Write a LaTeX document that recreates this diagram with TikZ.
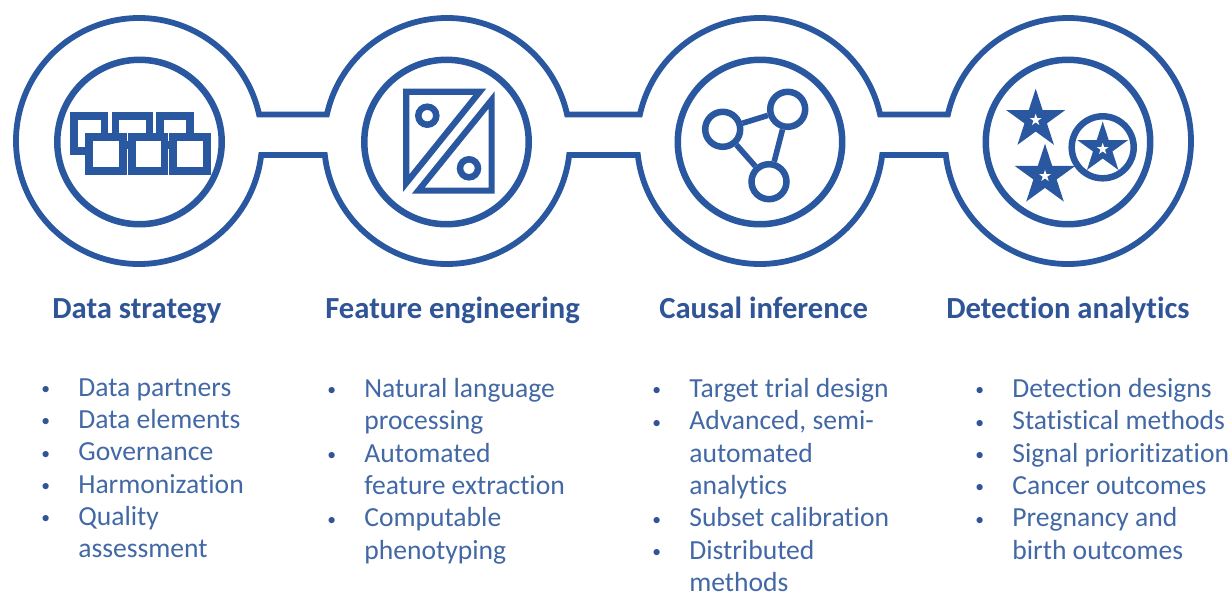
\documentclass[tikz,border=0pt]{standalone}
\usepackage{fontspec}
\setmainfont[Ligatures=NoCommon]{Carlito}
\usetikzlibrary{shapes.geometric, calc}
\definecolor{ringblue}{RGB}{42,88,160}
\definecolor{headblue}{RGB}{47,85,151}
\definecolor{textblue}{RGB}{66,104,165}
\newcommand{\itm}{\makebox[0.74cm][l]{\textcolor{headblue}{\fontsize{10}{10}\selectfont\raisebox{1pt}{\textbullet}}}}
\newcommand{\cnt}{\hspace*{0.74cm}}
\tikzset{
    ring/.style={draw=ringblue, line width=3.3pt, line join=miter},
    inner ring/.style={circle, draw=ringblue, line width=3.7pt, minimum size=3.29cm, inner sep=0pt},
    box/.style={draw=ringblue, line width=4.4pt, fill=white},
    tri/.style={draw=ringblue, line width=3.5pt, line join=miter},
    dot/.style={circle, draw=ringblue, line width=3.7pt, minimum size=0.36cm, inner sep=0pt},
    graph node/.style={circle, draw=ringblue, line width=3.7pt, fill=white, minimum size=0.7cm, inner sep=0pt},
    big star/.style={star, star points=5, star point ratio=2.618, fill=ringblue, inner sep=0pt},
    small star/.style={star, star points=5, star point ratio=2.618, fill=white, inner sep=0pt, minimum size=0.25cm},
    heading/.style={anchor=base west, inner sep=0pt, text=headblue, font=\fontsize{17.45}{20}\selectfont\bfseries},
    list/.style={anchor=north west, inner sep=0pt, align=left, text=textblue, font=\fontsize{15.7}{18.42}\selectfont},
}
\begin{document}
\begin{tikzpicture}[x=0.02cm, y=-0.02cm]
    \useasboundingbox (0,0) rectangle (1231,592);
    % outline of the chain
    \draw[ring] (139,141) ++(-12.4:123) arc[start angle=-12.4, end angle=-353.5, radius=123]
        -- ($(447,141)+(173.5:123)$) arc[start angle=173.5, end angle=6.5, radius=123]
        -- ($(760,141)+(173.5:123)$) arc[start angle=173.5, end angle=6.5, radius=123]
        -- ($(1068,141)+(173.5:123)$) arc[start angle=173.5, end angle=-167.6, radius=123]
        -- ($(760,141)+(-12.4:123)$) arc[start angle=-12.4, end angle=-167.6, radius=123]
        -- ($(447,141)+(-12.4:123)$) arc[start angle=-12.4, end angle=-167.6, radius=123]
        -- cycle;
    \node[inner ring] (ringdata) at (139.5,142) {};
    \node[inner ring] (ringfeature) at (446.5,142) {};
    \node[inner ring] (ringcausal) at (760,142) {};
    \node[inner ring] (ringdetect) at (1068,142) {};
    % data strategy
    \draw[box] (74,116) rectangle (104.5,151);
    \draw[box] (115.5,116) rectangle (149.5,145);
    \draw[box] (160,116) rectangle (190,145);
    \draw[box] (89,136.7) rectangle (123,171);
    \draw[box] (132,136.7) rectangle (164.5,171);
    \draw[box] (173.2,136.7) rectangle (206.8,171);
    % feature engineering
    \draw[tri] (406.3,91.7) -- (479.8,91.7) -- (406.3,183) -- cycle;
    \draw[tri] (491.6,100) -- (491.6,190.6) -- (418.3,190.6) -- cycle;
    \node[dot] (dotupper) at (427.3,115.7) {};
    \node[dot] (dotlower) at (469,168.3) {};
    % causal inference
    \node[graph node] (graphleft) at (722.7,129.3) {};
    \node[graph node] (graphright) at (787.7,109.3) {};
    \node[graph node] (graphlow) at (769,181.7) {};
    \draw[ringblue, line width=3.2pt] (graphleft) -- (graphright);
    \draw[ringblue, line width=3.2pt] (graphright) -- (graphlow);
    \draw[ringblue, line width=3.2pt] (graphlow) -- (graphleft);
    % detection analytics
    \node[big star, minimum size=1.24cm] (starone) at (1035.7,119.7) {};
    \node[small star] (whiteone) at (1035.7,120) {};
    \node[big star, minimum size=1.28cm] (startwo) at (1045,175.7) {};
    \node[small star] (whitetwo) at (1045,176) {};
    \node[circle, draw=ringblue, line width=3.7pt, minimum size=1.24cm, inner sep=0pt] (starring) at (1102.7,147.3) {};
    \node[big star, minimum size=1.07cm] (starthree) at (1102.7,148.3) {};
    \node[small star] (whitethree) at (1102.7,149) {};
    % headings
    \node[heading] (headdata) at (52,318) {Data strategy};
    \node[heading] (headfeature) at (325,318) {Feature engineering};
    \node[heading] (headcausal) at (659,318) {Causal inference};
    \node[heading] (headdetect) at (946,318) {Detection analytics};
    % lists
    \node[list] (listdata) at (41,378) {\itm Data partners\\ \itm Data elements\\ \itm Governance\\ \itm Harmonization\\ \itm Quality\\ \cnt assessment};
    \node[list] (listfeature) at (327,378) {\itm Natural language\\ \cnt processing\\ \itm Automated\\ \cnt feature extraction\\ \itm Computable\\ \cnt phenotyping};
    \node[list] (listcausal) at (652,378) {\itm Target trial design\\ \itm Advanced, semi-\\ \cnt automated\\ \cnt analytics\\ \itm Subset calibration\\ \itm Distributed\\ \cnt methods};
    \node[list] (listdetect) at (975,378) {\itm Detection designs\\ \itm Statistical methods\\ \itm Signal prioritization\\ \itm Cancer outcomes\\ \itm Pregnancy and\\ \cnt birth outcomes};
\end{tikzpicture}
\end{document}
